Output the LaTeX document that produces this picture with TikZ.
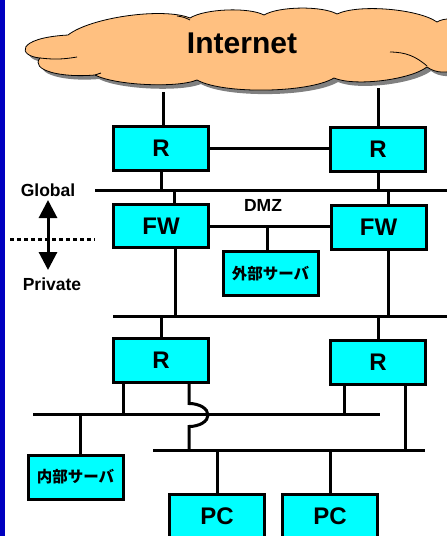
\documentclass[tikz,border=0pt]{standalone}
\usepackage{fontspec}
\setmainfont{Liberation Sans}
\newfontfamily\jpfont{Noto Sans CJK JP}
\usetikzlibrary{arrows.meta}
\definecolor{slideblue}{RGB}{0,0,192}
\definecolor{cloudfill}{RGB}{255,192,128}
\definecolor{devfill}{RGB}{0,255,255}
\newcommand{\cloudpath}{(40,58) .. controls (18,56) and (15,38) .. (68,35)
  to[bend left=30,looseness=0.6] (190,18)
  to[bend left=30,looseness=0.6] (264,15)
  to[bend left=30,looseness=0.6] (337,14)
  to[bend left=30,looseness=0.6] (437,22)
  to[bend left=60] (478,45)
  to[bend left=60] (427,67)
  to[bend left=30,looseness=0.6] (334,78)
  to[bend left=30,looseness=0.55] (197,80)
  to[bend left=25,looseness=0.55] (95,75)
  .. controls (60,78) and (30,70) .. (40,58) -- cycle}

\begin{document}
\begin{tikzpicture}[
  x=1pt,y=-1pt,
  box/.style={draw,fill=devfill,line width=3pt,minimum width=95pt,minimum height=44pt,
    inner sep=0pt,font=\bfseries\fontsize{24}{24}\selectfont},
  jpbox/.style={box,font=\jpfont\bfseries\fontsize{15.5}{16}\selectfont},
  lbl/.style={font=\bfseries\fontsize{17.5}{18}\selectfont},
  ln/.style={line width=3pt},
  cloudline/.style={line width=0.8pt}]
\useasboundingbox (0,0) rectangle (447,536);
\clip (0,0) rectangle (447,536);
\fill[slideblue] (0,0) rectangle (4.5,536);
% cloud
\fill[gray,shift={(4,4)}] \cloudpath;
\filldraw[cloudline,fill=cloudfill] \cloudpath;
\draw[cloudline] (40,58) to[bend right=8] (77,57);
\draw[cloudline] (95,75) to[bend left=10] (101,73);
\draw[cloudline] (390,52) to[bend left=20] (427,66);
\draw[cloudline] (177,16) to[bend left=10] (190,20);
\node[font=\bfseries\fontsize{30}{30}\selectfont] (inet) at (242,43) {Internet};
% devices
\node[box] (rA) at (161,148.5) {R};
\node[box] (rB) at (378,149) {R};
\node[box,minimum height=43pt] (fwA) at (161,226) {FW};
\node[box] (fwB) at (378.5,227.5) {FW};
\node[jpbox] (srvOut) at (270.5,273.5) {外部サーバ};
\node[box] (rC) at (161,360.5) {R};
\node[box] (rD) at (378,362.5) {R};
\node[jpbox] (srvIn) at (75.5,477) {内部サーバ};
\node[box] (pc1) at (217,516.5) {PC};
\node[box] (pc2) at (330,516.5) {PC};
% labels
\node[lbl] (glob) at (48,190) {Global};
\node[lbl] (priv) at (52,284) {Private};
\node[lbl] (dmz) at (263,205) {DMZ};
% segments
\coordinate (g0) at (95,190);  \coordinate (g1) at (449,190);
\coordinate (b2) at (113,316); \coordinate (b2e) at (449,316);
\coordinate (b3) at (33,414);  \coordinate (b3e) at (380,414);
\coordinate (b4) at (153,450); \coordinate (b4e) at (425,450);
\draw[ln] (g0) -- (g1);
\draw[ln] (b2) -- (b2e);
\draw[ln] (b3) -- (b3e);
\draw[ln] (b4) -- (b4e);
% global / private
\coordinate (d0) at (10,239); \coordinate (d1) at (95,239);
\draw[ln,dash pattern=on 4pt off 3pt] (d0) -- (d1);
\coordinate (up) at (48,200); \coordinate (dn) at (48,270);
\draw[ln,{Triangle[width=18pt,length=18pt]}-{Triangle[width=18pt,length=18pt]}] (up) -- (dn);
% links
\coordinate (inA) at (163,92);
\coordinate (inB) at (378,88);
\draw[ln] (inA) -- (inA |- rA.north);
\draw[ln] (inB) -- (inB |- rB.north);
\draw[ln] (rA.east) -- (rA.east -| rB.west);
\draw[ln] (rA.south) -- (rA.south |- g0);
\draw[ln] (rB.south) -- (rB.south |- g0);
\draw[ln] ([xshift=13pt]fwA.north) -- ([xshift=13pt]fwA.north |- g0);
\draw[ln] ([xshift=9.5pt]fwB.north) -- ([xshift=9.5pt]fwB.north |- g0);
\draw[ln] (fwA.east) -- (fwA.east -| fwB.west);
\draw[ln] ([xshift=-3.5pt]srvOut.north) -- ([xshift=-3.5pt]srvOut.north |- fwA.east);
\draw[ln] ([xshift=14pt]fwA.south) -- ([xshift=14pt]fwA.south |- b2);
\draw[ln] ([xshift=9.5pt]fwB.south) -- ([xshift=9.5pt]fwB.south |- b2);
\draw[ln] (rC.north) -- (rC.north |- b2);
\draw[ln] (rD.north) -- (rD.north |- b2);
\draw[ln] ([xshift=-38pt]rC.south) -- ([xshift=-38pt]rC.south |- b3);
\draw[ln] ([xshift=28pt]rC.south) -- ++(0,19.5)
  arc[start angle=90,end angle=-90,x radius=19pt,y radius=11.5pt]
  -- ([xshift=28pt]rC.south |- b4);
\draw[ln] ([xshift=-34pt]rD.south) -- ([xshift=-34pt]rD.south |- b3);
\draw[ln] ([xshift=27pt]rD.south) -- ([xshift=27pt]rD.south |- b4);
\draw[ln] ([xshift=4.5pt]srvIn.north) -- ([xshift=4.5pt]srvIn.north |- b3);
\draw[ln] (pc1.north) -- (pc1.north |- b4);
\draw[ln] (pc2.north) -- (pc2.north |- b4);
\end{tikzpicture}
\end{document}
